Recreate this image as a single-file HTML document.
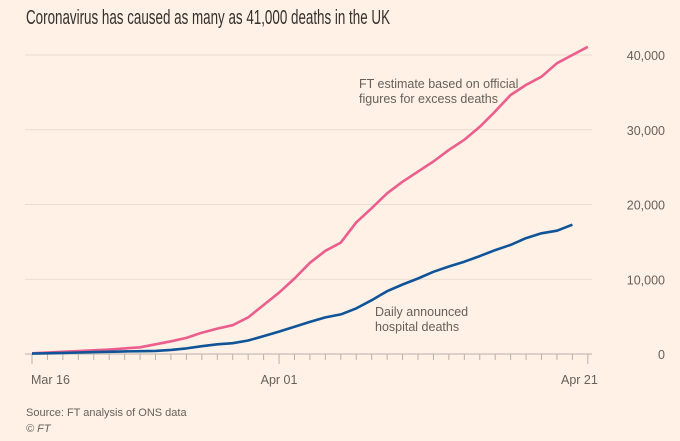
<!DOCTYPE html>
<html><head><meta charset="utf-8"><style>
body{margin:0;background:#fff1e5;}
svg{display:block;font-family:"Liberation Sans",sans-serif;}
</style></head><body>
<svg id="chart" width="680" height="441" viewBox="0 0 680 441">
<rect width="680" height="441" fill="#fff1e5"/>
<text x="26" y="24" font-size="20" fill="#33302e" textLength="364" lengthAdjust="spacingAndGlyphs">Coronavirus has caused as many as 41,000 deaths in the UK</text>
<g id="grid"></g><g id="xticks"></g><g id="series"></g>
<text x="359" y="88" font-size="12.5" fill="#66605c">FT estimate based on official</text>
<text x="359" y="103" font-size="12.5" fill="#66605c">figures for excess deaths</text>
<text x="375" y="316" font-size="12.5" fill="#66605c">Daily announced</text>
<text x="375" y="331" font-size="12.5" fill="#66605c">hospital deaths</text>
<text x="26" y="416" font-size="11" fill="#66605c">Source: FT analysis of ONS data</text>
<text x="26" y="432" font-size="11" font-style="italic" fill="#66605c">© FT</text>
</svg>
<script>
const yTicks=[0,10000,20000,30000,40000];
const yTickLabels=["0","10,000","20,000","30,000","40,000"];
const xTickLabels=["Mar 16","Apr 01","Apr 21"];
const xTickDays=[0,16,36];
const excessDeaths=[100,200,300,400,500,600,750,900,1300,1700,2150,2850,3400,3850,4900,6550,8200,10100,12200,13800,14900,17600,19500,21500,23050,24400,25750,27300,28650,30400,32450,34650,36000,37100,38900,40000,41100];
const hospitalDeaths=[50,100,150,200,250,300,350,380,420,550,750,1050,1300,1450,1800,2400,3000,3650,4300,4900,5300,6100,7200,8400,9300,10100,11000,11700,12350,13100,13900,14600,15500,16150,16500,17300];
const NS="http://www.w3.org/2000/svg";
const x=d=>32+d*15.44;
const y=v=>354-v*0.007475;
const grid=document.getElementById('grid');
yTicks.forEach((t,i)=>{
 const l=document.createElementNS(NS,'line');
 l.setAttribute('x1',25);l.setAttribute('x2',592);l.setAttribute('y1',y(t));l.setAttribute('y2',y(t));
 l.setAttribute('stroke',i===0?'#b8b1aa':'#ebdcd0');l.setAttribute('stroke-width',1);
 
 
 grid.appendChild(l);
 const tx=document.createElementNS(NS,'text');
 tx.setAttribute('x',665);tx.setAttribute('y',y(t)+5);tx.setAttribute('text-anchor','end');
 tx.setAttribute('font-size','12.5');tx.setAttribute('fill','#66605c');tx.textContent=yTickLabels[i];
 
 
 grid.appendChild(tx);
});
const xt=document.getElementById('xticks');
for(let d=0;d<=36;d++){
 const l=document.createElementNS(NS,'line');
 l.setAttribute('x1',x(d));l.setAttribute('x2',x(d));l.setAttribute('y1',354);l.setAttribute('y2',xTickDays.includes(d)?364:360);
 l.setAttribute('stroke','#b8b1aa');
 
 
 xt.appendChild(l);
}
xTickLabels.forEach((s,i)=>{
 const tx=document.createElementNS(NS,'text');
 tx.setAttribute('y',384);
 if(i===0){tx.setAttribute('x',x(0)-1);tx.setAttribute('text-anchor','start');}
 else if(i===xTickLabels.length-1){tx.setAttribute('x',x(xTickDays[i])+10);tx.setAttribute('text-anchor','end');}
 else{tx.setAttribute('x',x(xTickDays[i]));tx.setAttribute('text-anchor','middle');}
 tx.setAttribute('font-size','12.5');tx.setAttribute('fill','#66605c');tx.textContent=s;
 
 
 xt.appendChild(tx);
});
const ser=document.getElementById('series');
function line(vals,color,name){
 const p=document.createElementNS(NS,'polyline');
 p.setAttribute('points',vals.map((v,i)=>x(i).toFixed(1)+','+y(v).toFixed(1)).join(' '));
 p.setAttribute('fill','none');p.setAttribute('stroke',color);p.setAttribute('stroke-width',2.6);
 p.setAttribute('stroke-linejoin','round');
 
 
 ser.appendChild(p);
}
line(excessDeaths,'#eb5e8d','excess-deaths-line');
line(hospitalDeaths,'#0f5499','hospital-deaths-line');
</script>
</body></html>
